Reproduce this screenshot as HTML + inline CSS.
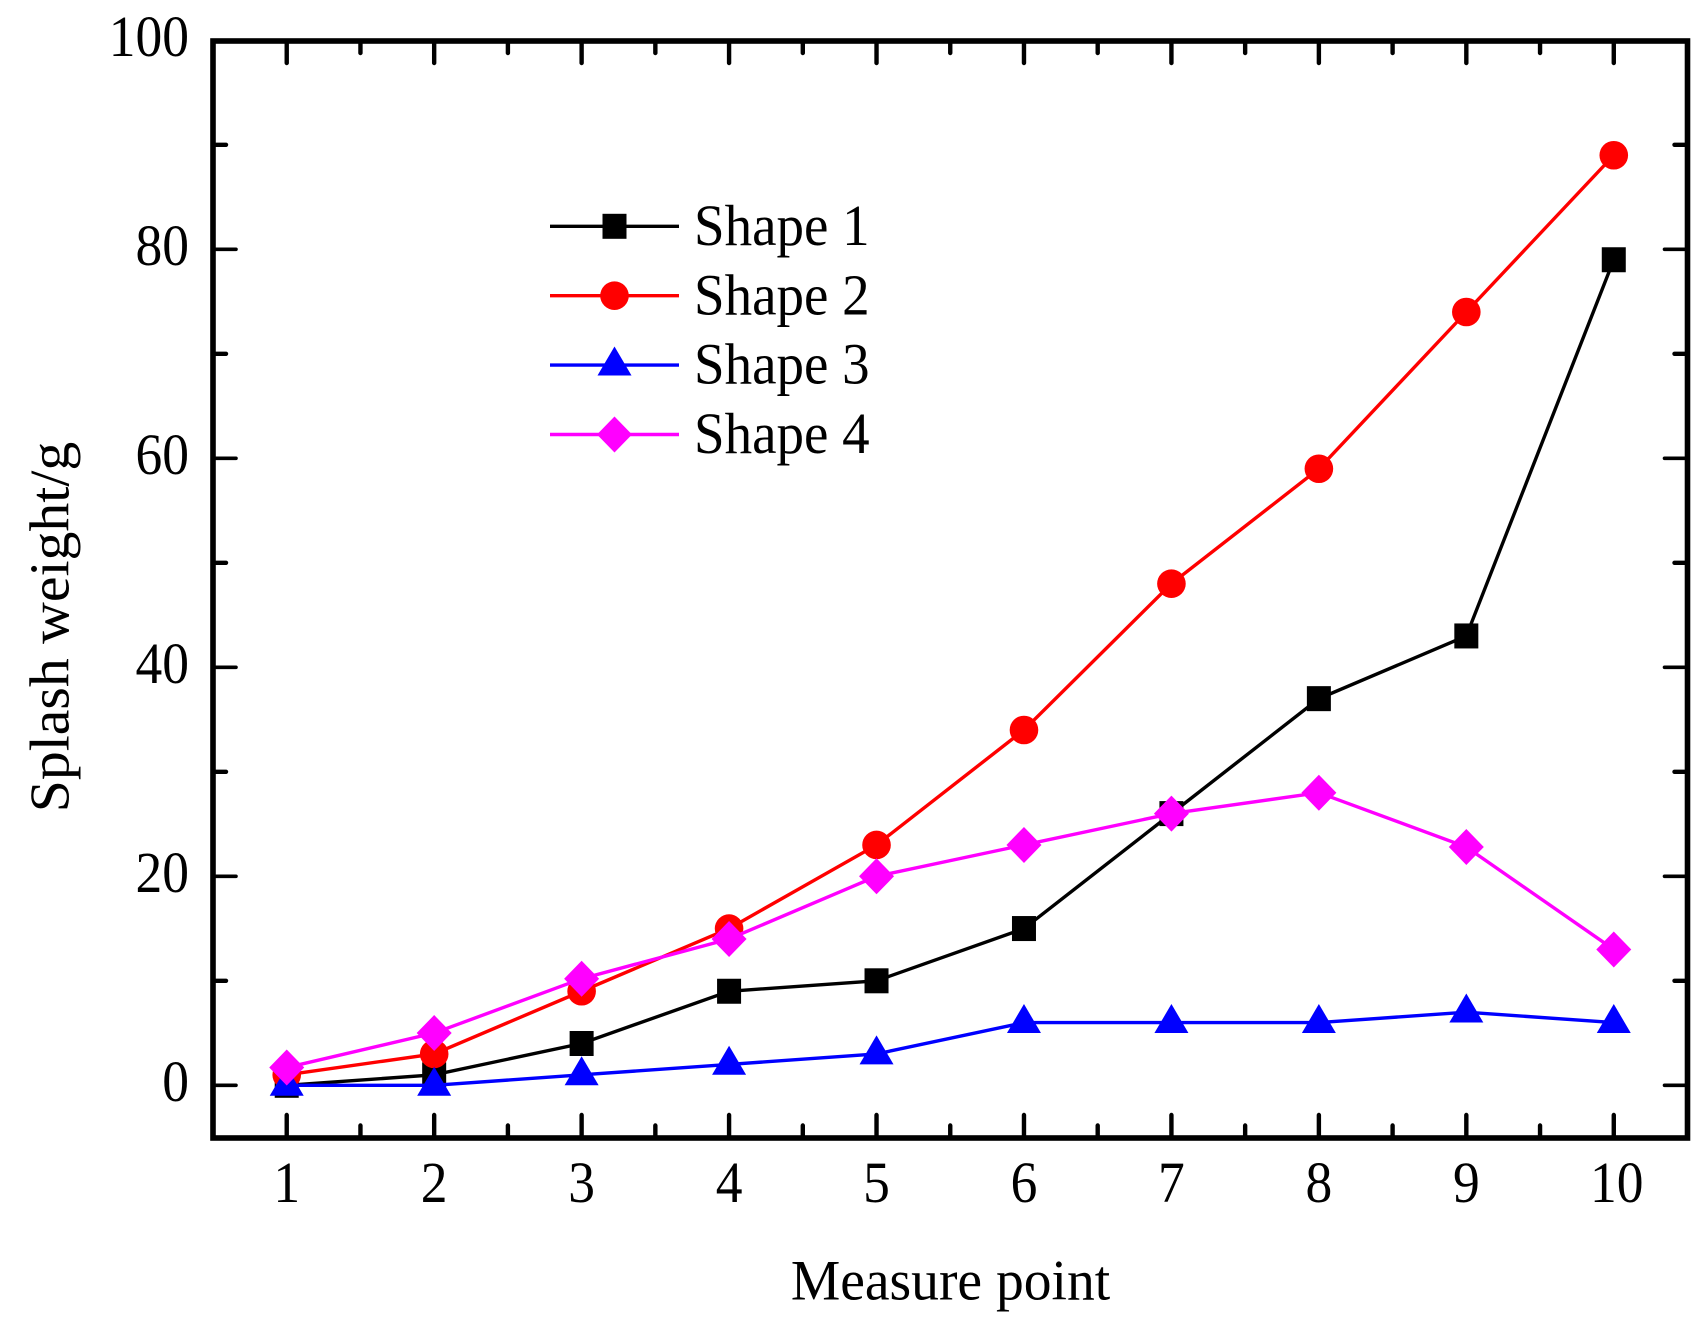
<!DOCTYPE html>
<html lang="en">
<head>
<meta charset="utf-8">
<title>Splash weight by measure point</title>
<style>
html,body{margin:0;padding:0;background:#fff;width:1707px;height:1335px;overflow:hidden}
svg{display:block}
text{font-family:"Liberation Serif","Times New Roman",serif;font-size:55px;fill:#000}
text.tick{font-size:53.5px}
</style>
</head>
<body>
<svg id="chart" xmlns="http://www.w3.org/2000/svg" width="1707" height="1335" viewBox="0 0 1707 1335">
<rect x="0" y="0" width="1707" height="1335" fill="#fff"/>
<g id="series-layer"></g>
<g id="axis-layer"></g>
<g id="legend-layer"></g>
</svg>
<script>
const categories = [1, 2, 3, 4, 5, 6, 7, 8, 9, 10];
const shape1Values = [0, 1, 4, 9, 10, 15, 26, 37, 43, 79];
const shape2Values = [1, 3, 9, 15, 23, 34, 48, 59, 74, 89];
const shape3Values = [0, 0, 1, 2, 3, 6, 6, 6, 7, 6];
const shape4Values = [1.7, 5, 10.2, 14, 20, 23, 26, 28, 22.8, 13];
const xTickLabels = [1, 2, 3, 4, 5, 6, 7, 8, 9, 10];
const xMinorTicks = [1.5, 2.5, 3.5, 4.5, 5.5, 6.5, 7.5, 8.5, 9.5];
const yTickLabels = [0, 20, 40, 60, 80, 100];
const yMinorTicks = [10, 30, 50, 70, 90];
const seriesNames = ['Shape 1', 'Shape 2', 'Shape 3', 'Shape 4'];

const NS = 'http://www.w3.org/2000/svg';
const plot = {left: 213, right: 1687.5, top: 41, bottom: 1138};
const xDomain = [0.5, 10.5];
function xScale(v) { return plot.left + (v - xDomain[0]) / (xDomain[1] - xDomain[0]) * (plot.right - plot.left); }
function yScale(v) { return 1085.3 - v * 10.45; }

function make(tag, attrs, parent) {
  const el = document.createElementNS(NS, tag);
  for (const k in attrs) el.setAttribute(k, attrs[k]);
  parent.appendChild(el);
  return el;
}

function drawMarker(kind, cx, cy, color, parent, name) {
  let m;
  if (kind === 'square') {
    m = make('rect', {x: cx - 12, y: cy - 12.5, width: 24, height: 25, fill: color}, parent);
  } else if (kind === 'circle') {
    m = make('circle', {cx: cx, cy: cy, r: 14.3, fill: color}, parent);
  } else if (kind === 'triangle') {
    m = make('polygon', {points: (cx) + ',' + (cy - 18.6) + ' ' + (cx + 17) + ',' + (cy + 10.4) + ' ' + (cx - 17) + ',' + (cy + 10.4), fill: color}, parent);
  } else {
    m = make('polygon', {points: cx + ',' + (cy - 18) + ' ' + (cx + 17.5) + ',' + cy + ' ' + cx + ',' + (cy + 18) + ' ' + (cx - 17.5) + ',' + cy, fill: color}, parent);
  }
  
  
}

const seriesLayer = document.getElementById('series-layer');
const axisLayer = document.getElementById('axis-layer');
const legendLayer = document.getElementById('legend-layer');

const seriesList = [
  {values: shape1Values, color: '#000000', marker: 'square', key: 'shape-1'},
  {values: shape2Values, color: '#ff0000', marker: 'circle', key: 'shape-2'},
  {values: shape3Values, color: '#0000ff', marker: 'triangle', key: 'shape-3'},
  {values: shape4Values, color: '#ff00ff', marker: 'diamond', key: 'shape-4'}
];

seriesList.forEach(function (s) {
  const g = make('g', {}, seriesLayer);
  
  
  const pts = s.values.map(function (v, i) { return xScale(categories[i]) + ',' + yScale(v); }).join(' ');
  const line = make('polyline', {points: pts, fill: 'none', stroke: s.color, 'stroke-width': 3.4}, g);
  
  
  s.values.forEach(function (v, i) {
    drawMarker(s.marker, xScale(categories[i]), yScale(v), s.color, g, s.key + '-point');
  });
});

function drawTick(x1, y1, x2, y2, w, name) {
  const t = make('line', {x1: x1, y1: y1, x2: x2, y2: y2, stroke: '#000', 'stroke-width': w, 'stroke-linecap': 'round'}, axisLayer);
  
  
}

xTickLabels.forEach(function (v) {
  const x = xScale(v);
  drawTick(x, plot.bottom, x, plot.bottom - 23, 4.4, 'x-major-tick');
  drawTick(x, plot.top, x, plot.top + 22, 4.4, 'x-top-major-tick');
  const t = make('text', {class: 'tick', 'text-anchor': 'middle', transform: 'translate(' + (v === 10 ? x + 3 : x) + ',1202) scale(1,1.085)'}, axisLayer);
  t.textContent = v;
  
  
});
xMinorTicks.forEach(function (v) {
  const x = xScale(v);
  drawTick(x, plot.bottom, x, plot.bottom - 12.5, 4.4, 'x-minor-tick');
  drawTick(x, plot.top, x, plot.top + 12, 4.4, 'x-top-minor-tick');
});
yTickLabels.forEach(function (v) {
  const y = yScale(v);
  drawTick(plot.left, y, plot.left + 23, y, 3.6, 'y-major-tick');
  drawTick(plot.right, y, plot.right - 23, y, 3.6, 'y-right-major-tick');
  const t = make('text', {class: 'tick', 'text-anchor': 'end', transform: 'translate(189,' + (y + 15.5) + ') scale(1,1.085)'}, axisLayer);
  t.textContent = v;
  
  
});
yMinorTicks.forEach(function (v) {
  const y = yScale(v);
  drawTick(plot.left, y, plot.left + 13, y, 4.4, 'y-minor-tick');
  drawTick(plot.right, y, plot.right - 13, y, 4.4, 'y-right-minor-tick');
});

const frame = make('rect', {x: plot.left, y: plot.top, width: plot.right - plot.left, height: plot.bottom - plot.top, fill: 'none', stroke: '#000', 'stroke-width': 5.6}, axisLayer);



const xTitle = make('text', {'text-anchor': 'middle', transform: 'translate(950.5,1299.5) scale(1.01,1.04)'}, axisLayer);
xTitle.textContent = 'Measure point';



const yTitle = make('text', {'text-anchor': 'middle', transform: 'translate(68.7,627) rotate(-90) scale(1.05,1.02)'}, axisLayer);
yTitle.textContent = 'Splash weight/g';



seriesList.forEach(function (s, i) {
  const ly = 226.3 + i * 69.4;
  const g = make('g', {}, legendLayer);
  
  
  const l = make('line', {x1: 550, y1: ly, x2: 679, y2: ly, stroke: s.color, 'stroke-width': 3.4}, g);
  
  
  drawMarker(s.marker, 614.5, ly, s.color, g, 'legend-marker');
  const t = make('text', {transform: 'translate(694,' + (ly + 18.6) + ') scale(1,1.055)'}, g);
  t.textContent = seriesNames[i];
  
  
});
</script>
</body>
</html>
